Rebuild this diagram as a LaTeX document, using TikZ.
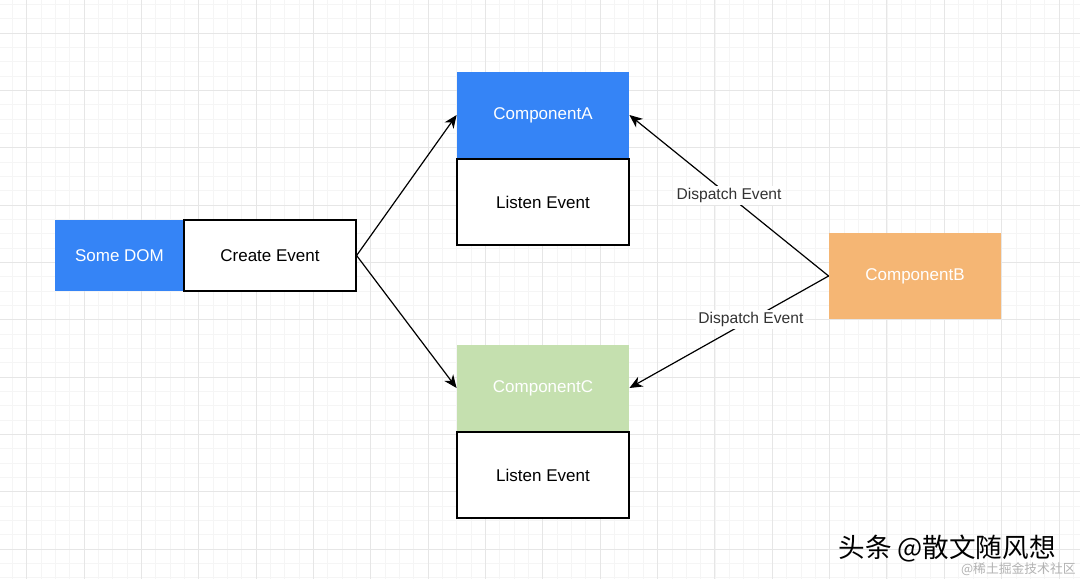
\documentclass[tikz,border=0pt]{standalone}
\usepackage{fontspec}
\setmainfont{Liberation Sans}
\newfontfamily\cjkfont{Noto Sans CJK SC}
\usetikzlibrary{arrows.meta}
\definecolor{domblue}{HTML}{3584F6}
\definecolor{compgreen}{HTML}{C5E0AF}
\definecolor{comporange}{HTML}{F5B674}
\definecolor{labelgray}{HTML}{333333}
\definecolor{minorgray}{HTML}{F5F5F5}
\definecolor{majorgray}{HTML}{E6E6E6}
\tikzstyle{block}=[minimum width=86pt, minimum height=43pt, inner sep=0, font=\fontsize{8.5}{10}\selectfont]
\tikzstyle{component}=[block, text=white]
\tikzstyle{listener}=[block, draw, semithick, fill=white]
\tikzstyle{event}=[-{Stealth[length=6.5pt, width=5.5pt, inset=2pt]}, semithick]
\tikzstyle{event label}=[fill=white, text=labelgray, inner sep=1pt, font=\fontsize{7.8}{9}\selectfont]
\tikzstyle{minor line}=[line width=0.5pt, minorgray]
\tikzstyle{major line}=[line width=0.5pt, majorgray]

\begin{document}
\begin{tikzpicture}[x=0.5pt, y=-0.5pt]
    \useasboundingbox (0, 0) rectangle (1080, 579);
    \fill[white] (0, 0) rectangle (1080, 579);
    \foreach \i in {0,...,74}
      \draw[minor line] (12.36 + \i*14.34, 0) -- (12.36 + \i*14.34, 579);
    \foreach \j in {0,...,40}
      \draw[minor line] (0, 4.32 + \j*14.34) -- (1080, 4.32 + \j*14.34);
    \foreach \i in {0,...,18}
      \draw[major line] (26.7 + \i*57.35, 0) -- (26.7 + \i*57.35, 579);
    \foreach \j in {0,...,9}
      \draw[major line] (0, 33 + \j*57.35) -- (1080, 33 + \j*57.35);

    \node[component, fill=domblue, minimum width=64.5pt, minimum height=35.5pt] (some_dom) at (119.5, 255.5) {Some DOM};
    \node[listener, minimum height=35.5pt] (create_event) at (270, 255.5) {Create Event};

    \node[component, fill=domblue] (comp_a) at (543, 115) {ComponentA};
    \node[listener, anchor=north] (listen_a) at (comp_a.south) {Listen Event};

    \node[component, fill=compgreen] (comp_c) at (543, 388) {ComponentC};
    \node[listener, anchor=north] (listen_c) at (comp_c.south) {Listen Event};

    \node[component, fill=comporange] (comp_b) at (915, 276) {ComponentB};

    \draw[event] (create_event.east) -- (comp_a.west);
    \draw[event] (create_event.east) -- (comp_c.west);
    \draw[event] (comp_b.west) -- node[event label] {Dispatch Event} (comp_a.east);
    \draw[event] (comp_b.west) -- node[event label, pos=0.39] {Dispatch Event} (comp_c.east);

    \node[font={\cjkfont\fontsize{13.3}{15}\selectfont}, inner sep=0, anchor=west] (credit) at (838, 549) {头条 @散文随风想};
    \node[font={\cjkfont\fontsize{6.4}{8}\selectfont}, text=black!30, inner sep=0, anchor=east] (source) at (1076, 569) {@稀土掘金技术社区};
\end{tikzpicture}
\end{document}
